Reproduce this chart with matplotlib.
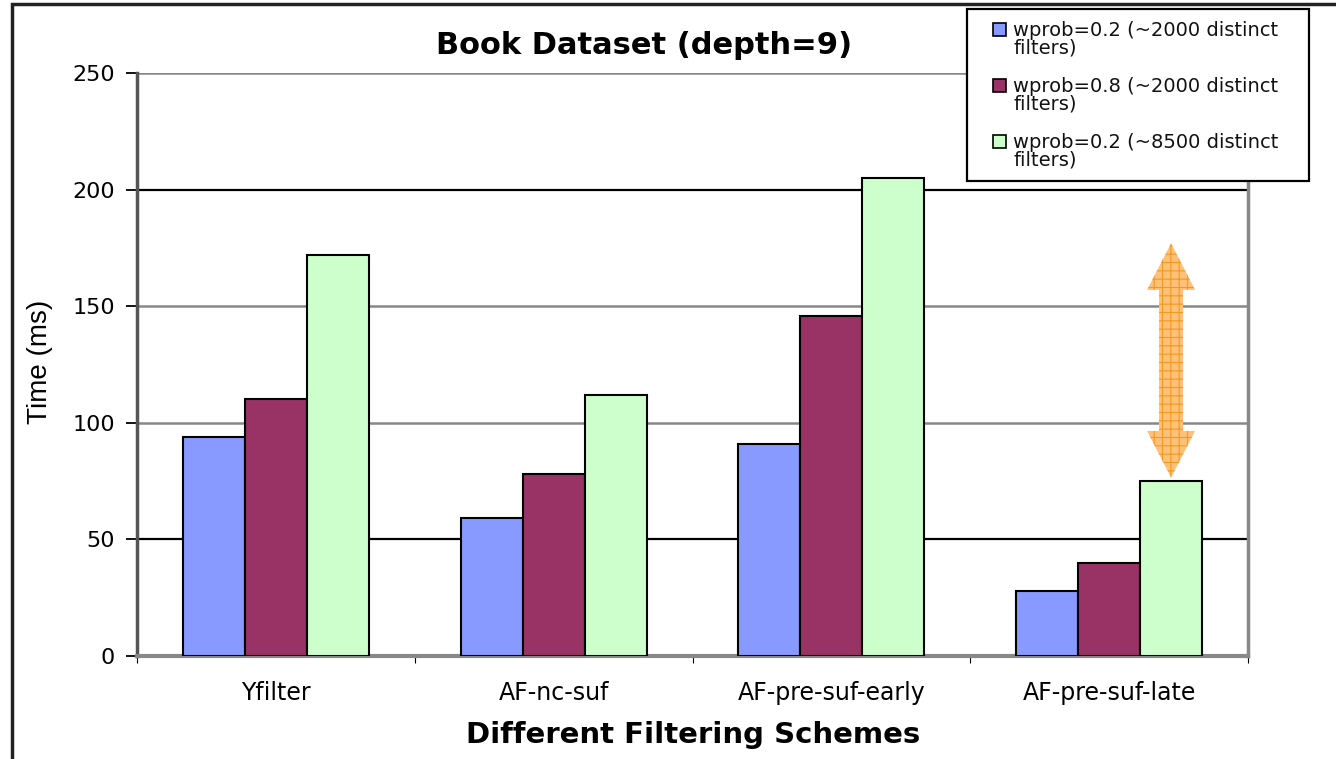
import matplotlib
matplotlib.use("Agg")
import matplotlib.pyplot as plt
from matplotlib.patches import Rectangle, Polygon
import numpy as np

plt.rcParams['font.family'] = ['DejaVu Sans']
plt.rcParams['hatch.linewidth'] = 0.8

categories = ["Yfilter", "AF-nc-suf", "AF-pre-suf-early", "AF-pre-suf-late"]
series_labels = [
    "wprob=0.2 (~2000 distinct\nfilters)",
    "wprob=0.8 (~2000 distinct\nfilters)",
    "wprob=0.2 (~8500 distinct\nfilters)",
]
wprob02_2000 = [94, 59, 91, 28]
wprob08_2000 = [110, 78, 146, 40]
wprob02_8500 = [172, 112, 205, 75]
series = [wprob02_2000, wprob08_2000, wprob02_8500]
colors = ["#8899ff", "#993366", "#ccffcc"]
yticks = [0, 50, 100, 150, 200, 250]

# range highlighted by the double arrow over the last group
arrow_low, arrow_high = 76.5, 177

W, H = 1336, 759
fig = plt.figure(figsize=(W / 100, H / 100), dpi=100)
ax = fig.add_axes([137 / W, 1 - 656 / H, 1111 / W, 583 / H])

# outer frame of the figure
fig.patches.append(Rectangle((12 / W, -0.1), 1.2, (1 - 4 / H) + 0.1,
                             transform=fig.transFigure, fill=False,
                             edgecolor='#222222', linewidth=2.5, zorder=0))

x = np.arange(len(categories)) + 0.5
width = 0.223
for i, (vals, col) in enumerate(zip(series, colors)):
    ax.bar(x + (i - 1) * width, vals, width, color=col,
           edgecolor='black', linewidth=1.5, zorder=3)

ax.set_xlim(0, len(categories))
ax.set_ylim(0, 250)
ax.set_yticks(yticks)
ax.set_yticklabels([str(t) for t in yticks], fontsize=16)
ax.set_xticks(np.arange(len(categories) + 1))
ax.set_xticklabels([])
ax.set_xticks(x, minor=True)
ax.set_xticklabels(categories, minor=True, fontsize=17)
ax.tick_params(axis='x', which='minor', length=0, pad=18)
ax.tick_params(axis='x', which='major', length=5, direction='out', color='black')
ax.tick_params(axis='y', length=8, width=1.3, direction='out', pad=8)

# horizontal gridlines
for t, c in zip(yticks[1:], ['black', '#888888', '#888888', 'black', '#888888']):
    ax.axhline(t, color=c, linewidth=1.6 if c == 'black' else 1.8, zorder=1)

ax.spines['top'].set_visible(False)
ax.spines['left'].set_color('#555555')
ax.spines['left'].set_linewidth(2.5)
ax.spines['bottom'].set_color('#888888')
ax.spines['bottom'].set_linewidth(3)
ax.spines['right'].set_color('#888888')
ax.spines['right'].set_linewidth(2.5)

ax.set_ylabel("Time (ms)", fontsize=20, family='Liberation Sans')
ax.yaxis.set_label_coords((40 - 137) / 1111, (656 - 362) / 583)
ax.yaxis.label.set_va('center')
ax.set_xlabel("Different Filtering Schemes", fontsize=21, fontweight='bold')
ax.xaxis.set_label_coords((693 - 137) / 1111, (656 - 735) / 583)
ax.xaxis.label.set_va('center')
fig.text(644 / W, 1 - 45 / H, "Book Dataset (depth=9)", fontsize=22,
         fontweight='bold', ha='center', va='center')

# double-headed arrow marking the gap above the last group
cx = x[3] + width
hw, sw, hl = 0.0864, 0.0432, 20
verts = [(cx, arrow_high), (cx + hw, arrow_high - hl), (cx + sw, arrow_high - hl),
         (cx + sw, arrow_low + hl), (cx + hw, arrow_low + hl), (cx, arrow_low),
         (cx - hw, arrow_low + hl), (cx - sw, arrow_low + hl),
         (cx - sw, arrow_high - hl), (cx - hw, arrow_high - hl)]
ax.add_patch(Polygon(verts, closed=True, facecolor='#ffc078',
                     edgecolor='#f09a20', linewidth=0, hatch='++', zorder=4))

# legend box with one square handle per series
fig.patches.append(Rectangle((967 / W, 1 - 181 / H), (1309 - 967) / W, (181 - 9) / H,
                             transform=fig.transFigure, facecolor='white',
                             edgecolor='black', linewidth=1.6, zorder=5))
for i, (lab, col) in enumerate(zip(series_labels, colors)):
    top = 23 + 56 * i
    fig.patches.append(Rectangle((993 / W, 1 - (top + 13) / H), 13 / W, 13 / H,
                                 transform=fig.transFigure, facecolor=col,
                                 edgecolor='black', linewidth=1.2, zorder=6))
    fig.text(1013 / W, 1 - (top - 2) / H, lab, fontsize=14, ha='left', va='top',
             linespacing=0.92, zorder=7, color='#111111')

fig.savefig("out.png", dpi=100, facecolor='white')
